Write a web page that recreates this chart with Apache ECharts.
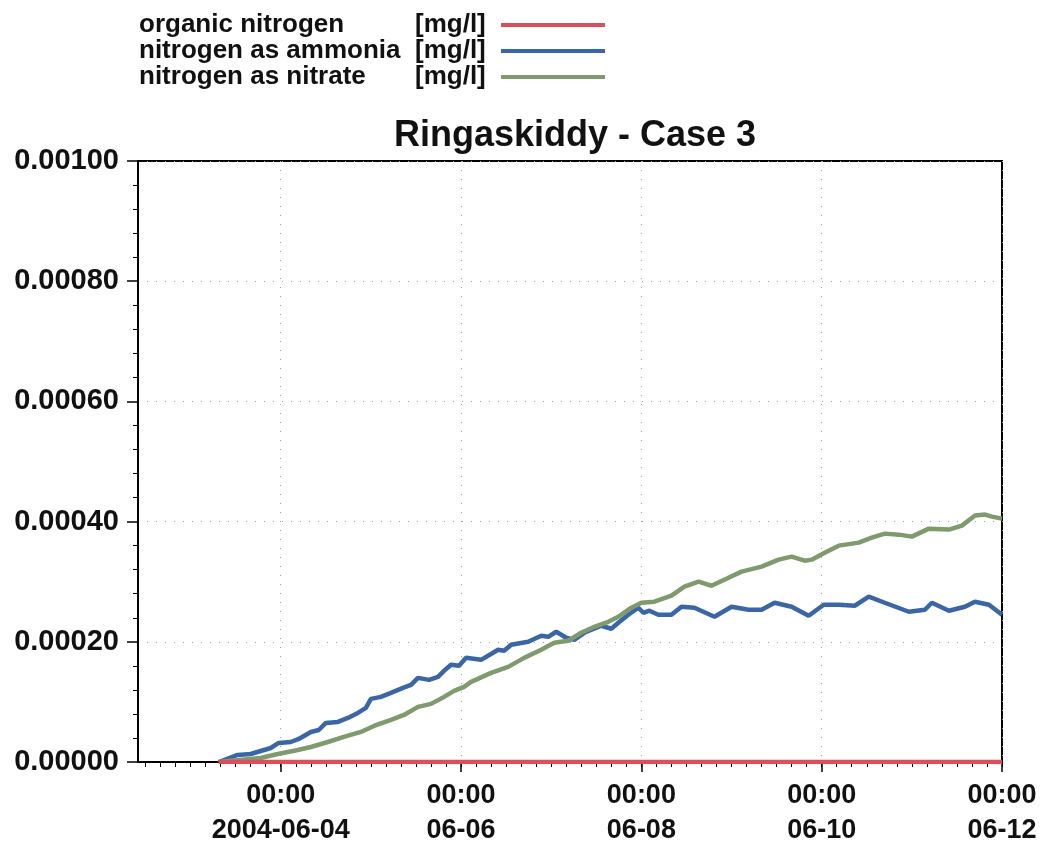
<!DOCTYPE html>
<html>
<head>
<meta charset="utf-8">
<script src="https://cdn.jsdelivr.net/npm/echarts@6/dist/echarts.min.js"></script>
<style>
html,body{margin:0;padding:0;background:#fff;}
#chart{width:1045px;height:849px;}
</style>
</head>
<body>
<div id="chart"></div>
<script>
// ---- data ----
const seriesNames = ['organic nitrogen', 'nitrogen as ammonia', 'nitrogen as nitrate'];
const unitLabel = '[mg/l]';
const chartTitle = 'Ringaskiddy - Case 3';

const organicTimes = ['2004-06-03 07:30', '2004-06-12 00:00'];
const organicValues = [0, 0];

const ammoniaTimes = ['2004-06-03 07:30','2004-06-03 12:32','2004-06-03 16:00','2004-06-03 18:40','2004-06-03 21:20','2004-06-03 23:28','2004-06-04 02:40','2004-06-04 04:48','2004-06-04 08:00','2004-06-04 10:08','2004-06-04 12:00','2004-06-04 15:12','2004-06-04 17:52','2004-06-04 20:32','2004-06-04 22:40','2004-06-05 00:00','2004-06-05 02:40','2004-06-05 05:20','2004-06-05 08:32','2004-06-05 10:40','2004-06-05 12:32','2004-06-05 15:28','2004-06-05 17:52','2004-06-05 19:28','2004-06-05 21:20','2004-06-05 23:28','2004-06-06 01:20','2004-06-06 05:20','2004-06-06 09:52','2004-06-06 11:28','2004-06-06 13:20','2004-06-06 17:52','2004-06-06 21:20','2004-06-06 23:12','2004-06-07 01:20','2004-06-07 04:00','2004-06-07 06:08','2004-06-07 08:48','2004-06-07 13:20','2004-06-07 16:00','2004-06-07 17:52','2004-06-07 20:32','2004-06-07 23:12','2004-06-08 00:32','2004-06-08 02:08','2004-06-08 04:32','2004-06-08 08:00','2004-06-08 10:40','2004-06-08 14:08','2004-06-08 19:28','2004-06-09 00:00','2004-06-09 04:32','2004-06-09 08:00','2004-06-09 11:28','2004-06-09 16:00','2004-06-09 20:32','2004-06-10 00:32','2004-06-10 04:32','2004-06-10 08:48','2004-06-10 12:32','2004-06-10 16:48','2004-06-10 23:12','2004-06-11 03:28','2004-06-11 05:20','2004-06-11 09:52','2004-06-11 14:08','2004-06-11 16:48','2004-06-11 20:32','2004-06-12 00:00'];
const ammoniaValues = [0,0.0000117,0.0000133,0.0000183,0.0000233,0.0000317,0.0000333,0.0000383,0.00005,0.0000533,0.000065,0.0000667,0.0000733,0.0000817,0.00009,0.000105,0.0001083,0.000115,0.0001233,0.0001283,0.00014,0.0001367,0.0001417,0.0001517,0.0001617,0.00016,0.0001733,0.00017,0.0001867,0.000185,0.000195,0.0002,0.00021,0.0002083,0.0002167,0.0002067,0.0002033,0.000215,0.0002267,0.0002217,0.0002317,0.000245,0.0002567,0.0002483,0.0002517,0.000245,0.000245,0.0002583,0.0002567,0.0002417,0.0002583,0.0002533,0.0002533,0.000265,0.0002583,0.0002433,0.0002617,0.0002617,0.00026,0.000275,0.000265,0.00025,0.0002533,0.000265,0.0002517,0.0002583,0.0002667,0.0002617,0.000245];

const nitrateTimes = ['2004-06-03 07:30','2004-06-03 18:40','2004-06-03 23:12','2004-06-04 04:32','2004-06-04 08:00','2004-06-04 12:32','2004-06-04 16:48','2004-06-04 21:20','2004-06-05 00:48','2004-06-05 05:20','2004-06-05 08:48','2004-06-05 12:32','2004-06-05 16:00','2004-06-05 19:28','2004-06-05 22:08','2004-06-06 00:48','2004-06-06 02:40','2004-06-06 08:00','2004-06-06 12:32','2004-06-06 16:48','2004-06-06 21:20','2004-06-07 00:48','2004-06-07 04:32','2004-06-07 08:00','2004-06-07 11:28','2004-06-07 15:12','2004-06-07 17:52','2004-06-07 21:20','2004-06-08 00:00','2004-06-08 03:28','2004-06-08 08:00','2004-06-08 11:28','2004-06-08 15:12','2004-06-08 18:40','2004-06-08 23:12','2004-06-09 02:40','2004-06-09 08:00','2004-06-09 12:32','2004-06-09 16:00','2004-06-09 19:28','2004-06-09 21:20','2004-06-10 00:48','2004-06-10 04:32','2004-06-10 09:52','2004-06-10 13:20','2004-06-10 16:48','2004-06-10 20:32','2004-06-11 00:00','2004-06-11 04:32','2004-06-11 09:52','2004-06-11 13:20','2004-06-11 16:48','2004-06-11 19:28','2004-06-11 21:20','2004-06-12 00:00'];
const nitrateValues = [0,0.0000067,0.0000133,0.00002,0.000025,0.0000333,0.0000417,0.00005,0.00006,0.00007,0.0000783,0.0000917,0.0000967,0.0001083,0.0001183,0.000125,0.0001333,0.0001483,0.0001583,0.0001733,0.0001867,0.0001983,0.0002017,0.000215,0.000225,0.0002333,0.0002417,0.0002567,0.000265,0.0002667,0.0002767,0.0002917,0.0003,0.0002933,0.0003067,0.0003167,0.000325,0.0003367,0.0003417,0.000335,0.0003367,0.0003483,0.00036,0.000365,0.0003733,0.00038,0.0003783,0.000375,0.0003883,0.0003867,0.0003933,0.00041,0.0004117,0.0004083,0.000405];

// axis range and tick labels
const xMin = '2004-06-02 10:00';
const xMax = '2004-06-12 00:00';
const majorTickTimes = ['2004-06-04 00:00','2004-06-06 00:00','2004-06-08 00:00','2004-06-10 00:00','2004-06-12 00:00'];
const majorTickLabels = ['00:00\n2004-06-04','00:00\n06-06','00:00\n06-08','00:00\n06-10','00:00\n06-12'];
const minorTickStart = '2004-06-02 12:00';
const minorTickStepHours = 4;

// ---- build ----
function toMs(s) { return new Date(s.replace(' ', 'T') + ':00').getTime(); }
function pairs(t, v) { return t.map((s, i) => [toMs(s), v[i]]); }

const majorMs = majorTickTimes.map(toMs);
const minorMs = [];
for (let t = toMs(minorTickStart); t <= toMs(xMax); t += minorTickStepHours * 3600000) minorMs.push(t);

const FONT = 'Liberation Sans, Arial, Helvetica, sans-serif';
const colors = ['#d9505c', '#3b66a6', '#7f9b6d'];
const txt = {fontFamily: FONT, fontSize: 26, fontWeight: 'bold', color: '#111', lineHeight: 25, align: 'left'};

const chart = echarts.init(document.getElementById('chart'), null, {renderer: 'canvas'});
chart.setOption({
  animation: false,
  backgroundColor: '#fff',
  color: colors,
  title: {
    text: chartTitle,
    left: 570, textAlign: 'center',
    top: 113,
    textStyle: {fontFamily: FONT, fontSize: 36, fontWeight: 'bold', color: '#111'}
  },
  legend: {
    orient: 'vertical',
    left: 139, top: 12,
    padding: 0,
    align: 'right',
    icon: 'rect',
    itemWidth: 104, itemHeight: 4,
    itemGap: 0,
    data: seriesNames,
    formatter: function (name) { return '{n|' + name + '}{u|' + unitLabel + '}'; },
    textStyle: Object.assign({}, txt, {
      rich: {
        n: Object.assign({width: 276}, txt),
        u: Object.assign({width: 81}, txt)
      }
    })
  },
  grid: {
    left: 138, right: 43, top: 161, bottom: 87,
    show: true, borderColor: '#000', borderWidth: 2, backgroundColor: 'transparent'
  },
  xAxis: [{
    type: 'value',
    min: toMs(xMin), max: toMs(xMax),
    axisLine: {show: true, onZero: false, lineStyle: {color: '#000', width: 2}},
    axisTick: {show: true, inside: false, length: 10, customValues: majorMs, lineStyle: {color: '#000', width: 1.5}},
    axisLabel: {
      show: true, customValues: majorMs, margin: 16, showMinLabel: true, showMaxLabel: true,
      fontFamily: FONT, fontSize: 27, fontWeight: 'bold', color: '#111', lineHeight: 35,
      formatter: function (v) { const i = majorMs.indexOf(v); return i >= 0 ? majorTickLabels[i] : ''; }
    },
    splitLine: {show: true, lineStyle: {color: '#a0a0a0', type: [1, 8], width: 1}}
  }, {
    type: 'value',
    min: toMs(xMin), max: toMs(xMax),
    position: 'bottom',
    axisLine: {show: false, onZero: false},
    axisTick: {show: true, inside: false, length: 5, customValues: minorMs, lineStyle: {color: '#000', width: 1}},
    axisLabel: {show: false},
    splitLine: {show: false}
  }],
  yAxis: {
    type: 'value',
    min: 0, max: 0.001, interval: 0.0002,
    axisLine: {show: true, lineStyle: {color: '#000', width: 2}},
    axisTick: {show: true, length: 11, lineStyle: {color: '#000', width: 1.5}},
    minorTick: {show: true, splitNumber: 5, length: 5, lineStyle: {color: '#000', width: 1}},
    axisLabel: {
      margin: 19, fontFamily: FONT, fontSize: 29, fontWeight: 'bold', color: '#111',
      formatter: function (v) { return v.toFixed(5); }
    },
    splitLine: {show: true, lineStyle: {color: '#a0a0a0', type: [1, 8], width: 1}}
  },
  series: [{
    name: seriesNames[0], type: 'line', showSymbol: false, z: 5,
    data: pairs(organicTimes, organicValues),
    lineStyle: {width: 4.5, color: colors[0]}, itemStyle: {color: colors[0]}
  }, {
    name: seriesNames[1], type: 'line', showSymbol: false, z: 3,
    data: pairs(ammoniaTimes, ammoniaValues),
    lineStyle: {width: 4.5, color: colors[1]}, itemStyle: {color: colors[1]}
  }, {
    name: seriesNames[2], type: 'line', showSymbol: false, z: 4,
    data: pairs(nitrateTimes, nitrateValues),
    lineStyle: {width: 4.5, color: colors[2]}, itemStyle: {color: colors[2]}
  }]
});
</script>
</body>
</html>
